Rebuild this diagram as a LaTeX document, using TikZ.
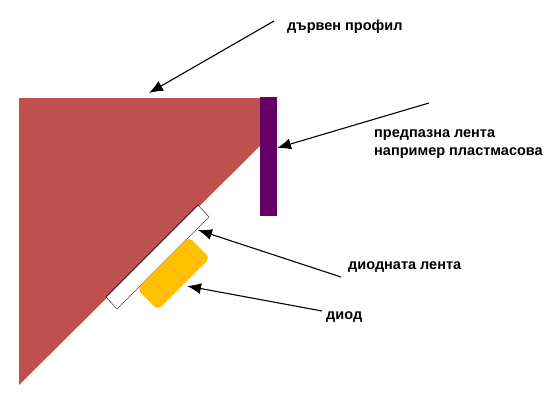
\documentclass[tikz,border=0pt]{standalone}
\usepackage{fontspec}
\setmainfont{Liberation Sans}
\usetikzlibrary{arrows.meta, positioning}
\definecolor{woodred}{HTML}{C0504D}
\definecolor{guardpurple}{HTML}{660066}
\definecolor{diodeyellow}{HTML}{FFC000}

\begin{document}
\begin{tikzpicture}[x=1pt, y=-1pt, label/.style={font=\bfseries\fontsize{14.5}{18}\selectfont, align=left, anchor=west, inner sep=0pt}, arrow/.style={-{Latex[length=14pt, width=11pt]}, line width=1.1pt}]
\useasboundingbox (0,0) rectangle (557,407);
\fill[woodred] (19,98) -- (260,98) -- (260,146) -- (19,385) -- cycle;
\fill[guardpurple] (260,97) rectangle (277,216);
\draw[fill=white, draw=black!70, line width=.6pt] (198,205) -- (209,217) -- (117,309) -- (106,297) -- cycle;
\draw[black!70!woodred, line width=1pt] (106,297) -- (198,205);
\fill[diodeyellow, rounded corners=5pt] (189,237) -- (210,258) -- (158,310) -- (137,289) -- cycle;
\node[label] (profile) at (287,27) {дървен профил};
\node[label] (guard) at (374,144) {предпазна лента\\например пластмасова};
\node[label] (strip) at (348,267) {диодната лента};
\node[label] (diode) at (326,317) {диод};
\coordinate (profilefrom) at (274,21);
\coordinate (profileto) at (149,93);
\coordinate (guardfrom) at (429,103);
\coordinate (guardto) at (277,148);
\coordinate (stripfrom) at (341,277);
\coordinate (stripto) at (198,230);
\coordinate (diodefrom) at (322,311);
\coordinate (diodeto) at (187,286);
\draw[arrow] (profilefrom) -- (profileto);
\draw[arrow] (guardfrom) -- (guardto);
\draw[arrow] (stripfrom) -- (stripto);
\draw[arrow] (diodefrom) -- (diodeto);
\end{tikzpicture}
\end{document}
